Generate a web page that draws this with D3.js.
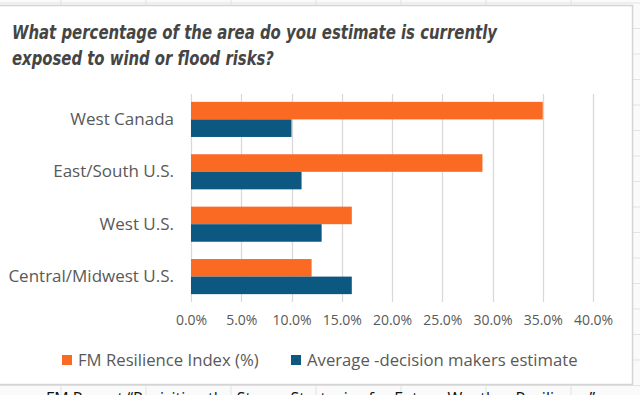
<!DOCTYPE html>
<html lang="en">
<head>
<meta charset="utf-8">
<title>Exposure to wind or flood risks</title>
<script src="https://cdn.jsdelivr.net/npm/d3@7"></script>
<style>
  html, body { margin: 0; padding: 0; background: #fff; }
  svg { display: block; }
</style>
</head>
<body>
<script>
// data
var regions = ["West Canada", "East/South U.S.", "West U.S.", "Central/Midwest U.S."];
var fmIndex = [35, 29, 16, 12];
var decisionMakers = [10, 11, 13, 16];
var seriesNames = ["FM Resilience Index (%)", "Average -decision makers estimate"];
var xTicks = [0, 5, 10, 15, 20, 25, 30, 35, 40];

var w = 640, h = 395;
var orange = "#fa6a22", blue = "#0d5880";
var grey = "#595959";

var svg = d3.select("body").append("svg")
  .attr("width", w).attr("height", h);

// spreadsheet behind the chart
svg.append("rect").attr("width", w).attr("height", h).attr("fill", "#fafafa");
d3.range(61, w, 85).forEach(function(x) {
  svg.append("line").attr("x1", x).attr("x2", x).attr("y1", 0).attr("y2", h)
    .attr("stroke", "#e3e3e3");
});
d3.range(3, h, 25.5).forEach(function(y) {
  svg.append("line").attr("x1", 0).attr("x2", w).attr("y1", y).attr("y2", y)
    .attr("stroke", "#e3e3e3");
});

// chart box
svg.append("rect")
  .attr("x", -2).attr("y", 5.5).attr("width", 634.5).attr("height", 379)
  .attr("fill", "#fff").attr("stroke", "#d4d4d4").attr("stroke-width", 1.5);

// title
var title = svg.append("g")
  .attr("font-family", "'Liberation Sans Narrow', 'DejaVu Sans Condensed', Roboto, sans-serif")
  .attr("font-style", "italic").attr("font-weight", "bold")
  .attr("font-size", 19).attr("fill", "#454545");
title.append("text").attr("x", 12).attr("y", 39)
  .attr("textLength", 485).attr("lengthAdjust", "spacingAndGlyphs")
  .text("What percentage of the area do you estimate is currently");
title.append("text").attr("x", 12).attr("y", 65)
  .attr("textLength", 262).attr("lengthAdjust", "spacingAndGlyphs")
  .text("exposed to wind or flood risks?");

// scales
var x = d3.scaleLinear().domain([0, 40]).range([191, 593]);
var y = d3.scaleBand().domain(regions).range([94, 302])
  .paddingInner(0.33).paddingOuter(0.15);
var ySub = d3.scaleBand().domain([0, 1]).range([0, y.bandwidth()]);

// gridlines
svg.append("g")
  .selectAll("line").data(xTicks).join("line")
  .attr("x1", function(d) { return Math.round(x(d)) + 0.5; })
  .attr("x2", function(d) { return Math.round(x(d)) + 0.5; })
  .attr("y1", 94).attr("y2", 302)
  .attr("stroke", "#d9d9d9").attr("stroke-width", 1.3);

// bars
var rows = regions.map(function(r, i) {
  return { region: r, values: [fmIndex[i], decisionMakers[i]] };
});
var groups = svg.append("g").selectAll("g").data(rows).join("g")
  .attr("transform", function(d) { return "translate(0," + y(d.region) + ")"; });
groups.selectAll("rect").data(function(d) { return d.values; }).join("rect")
  .attr("x", x(0))
  .attr("y", function(d, i) { return ySub(i); })
  .attr("height", ySub.bandwidth())
  .attr("width", function(d) { return x(d) - x(0); })
  .attr("fill", function(d, i) { return i === 0 ? orange : blue; });

// category axis
var yAxis = svg.append("g")
  .attr("transform", "translate(174,0)")
  .call(d3.axisLeft(y).tickSize(0).tickPadding(0));
yAxis.select(".domain").remove();
yAxis.selectAll("text")
  .attr("font-family", "'Open Sans', 'Noto Sans', sans-serif")
  .attr("font-size", 17).attr("fill", grey);

// value axis
var xAxis = svg.append("g")
  .attr("transform", "translate(0,315)")
  .call(d3.axisBottom(x).tickValues(xTicks).tickSize(0).tickPadding(0)
    .tickFormat(function(d) { return d3.format(".1f")(d) + "%"; }));
xAxis.select(".domain").remove();
xAxis.selectAll("text")
  .attr("font-family", "'Open Sans', 'Noto Sans', sans-serif")
  .attr("font-size", 14).attr("fill", grey);

// legend
var legendX = [62, 291];
var legend = svg.append("g").selectAll("g").data(seriesNames).join("g")
  .attr("transform", function(d, i) { return "translate(" + legendX[i] + ",355)"; });
legend.append("rect").attr("width", 10).attr("height", 10)
  .attr("fill", function(d, i) { return i === 0 ? orange : blue; });
legend.append("text").attr("x", 16).attr("y", 11)
  .attr("font-family", "'Open Sans', 'Noto Sans', sans-serif")
  .attr("font-size", 16.7).attr("fill", grey)
  .text(function(d) { return d; });

// caption of the sheet below, cut off by the window as in the screenshot
svg.append("text").attr("x", 46).attr("y", 404)
  .attr("font-family", "'Open Sans', 'Noto Sans', sans-serif")
  .attr("font-size", 16).attr("fill", "#111")
  .text("FM Report \u201cRevisiting the Storm: Strategies for Future Weather Resilience\u201d");
</script>
</body>
</html>
